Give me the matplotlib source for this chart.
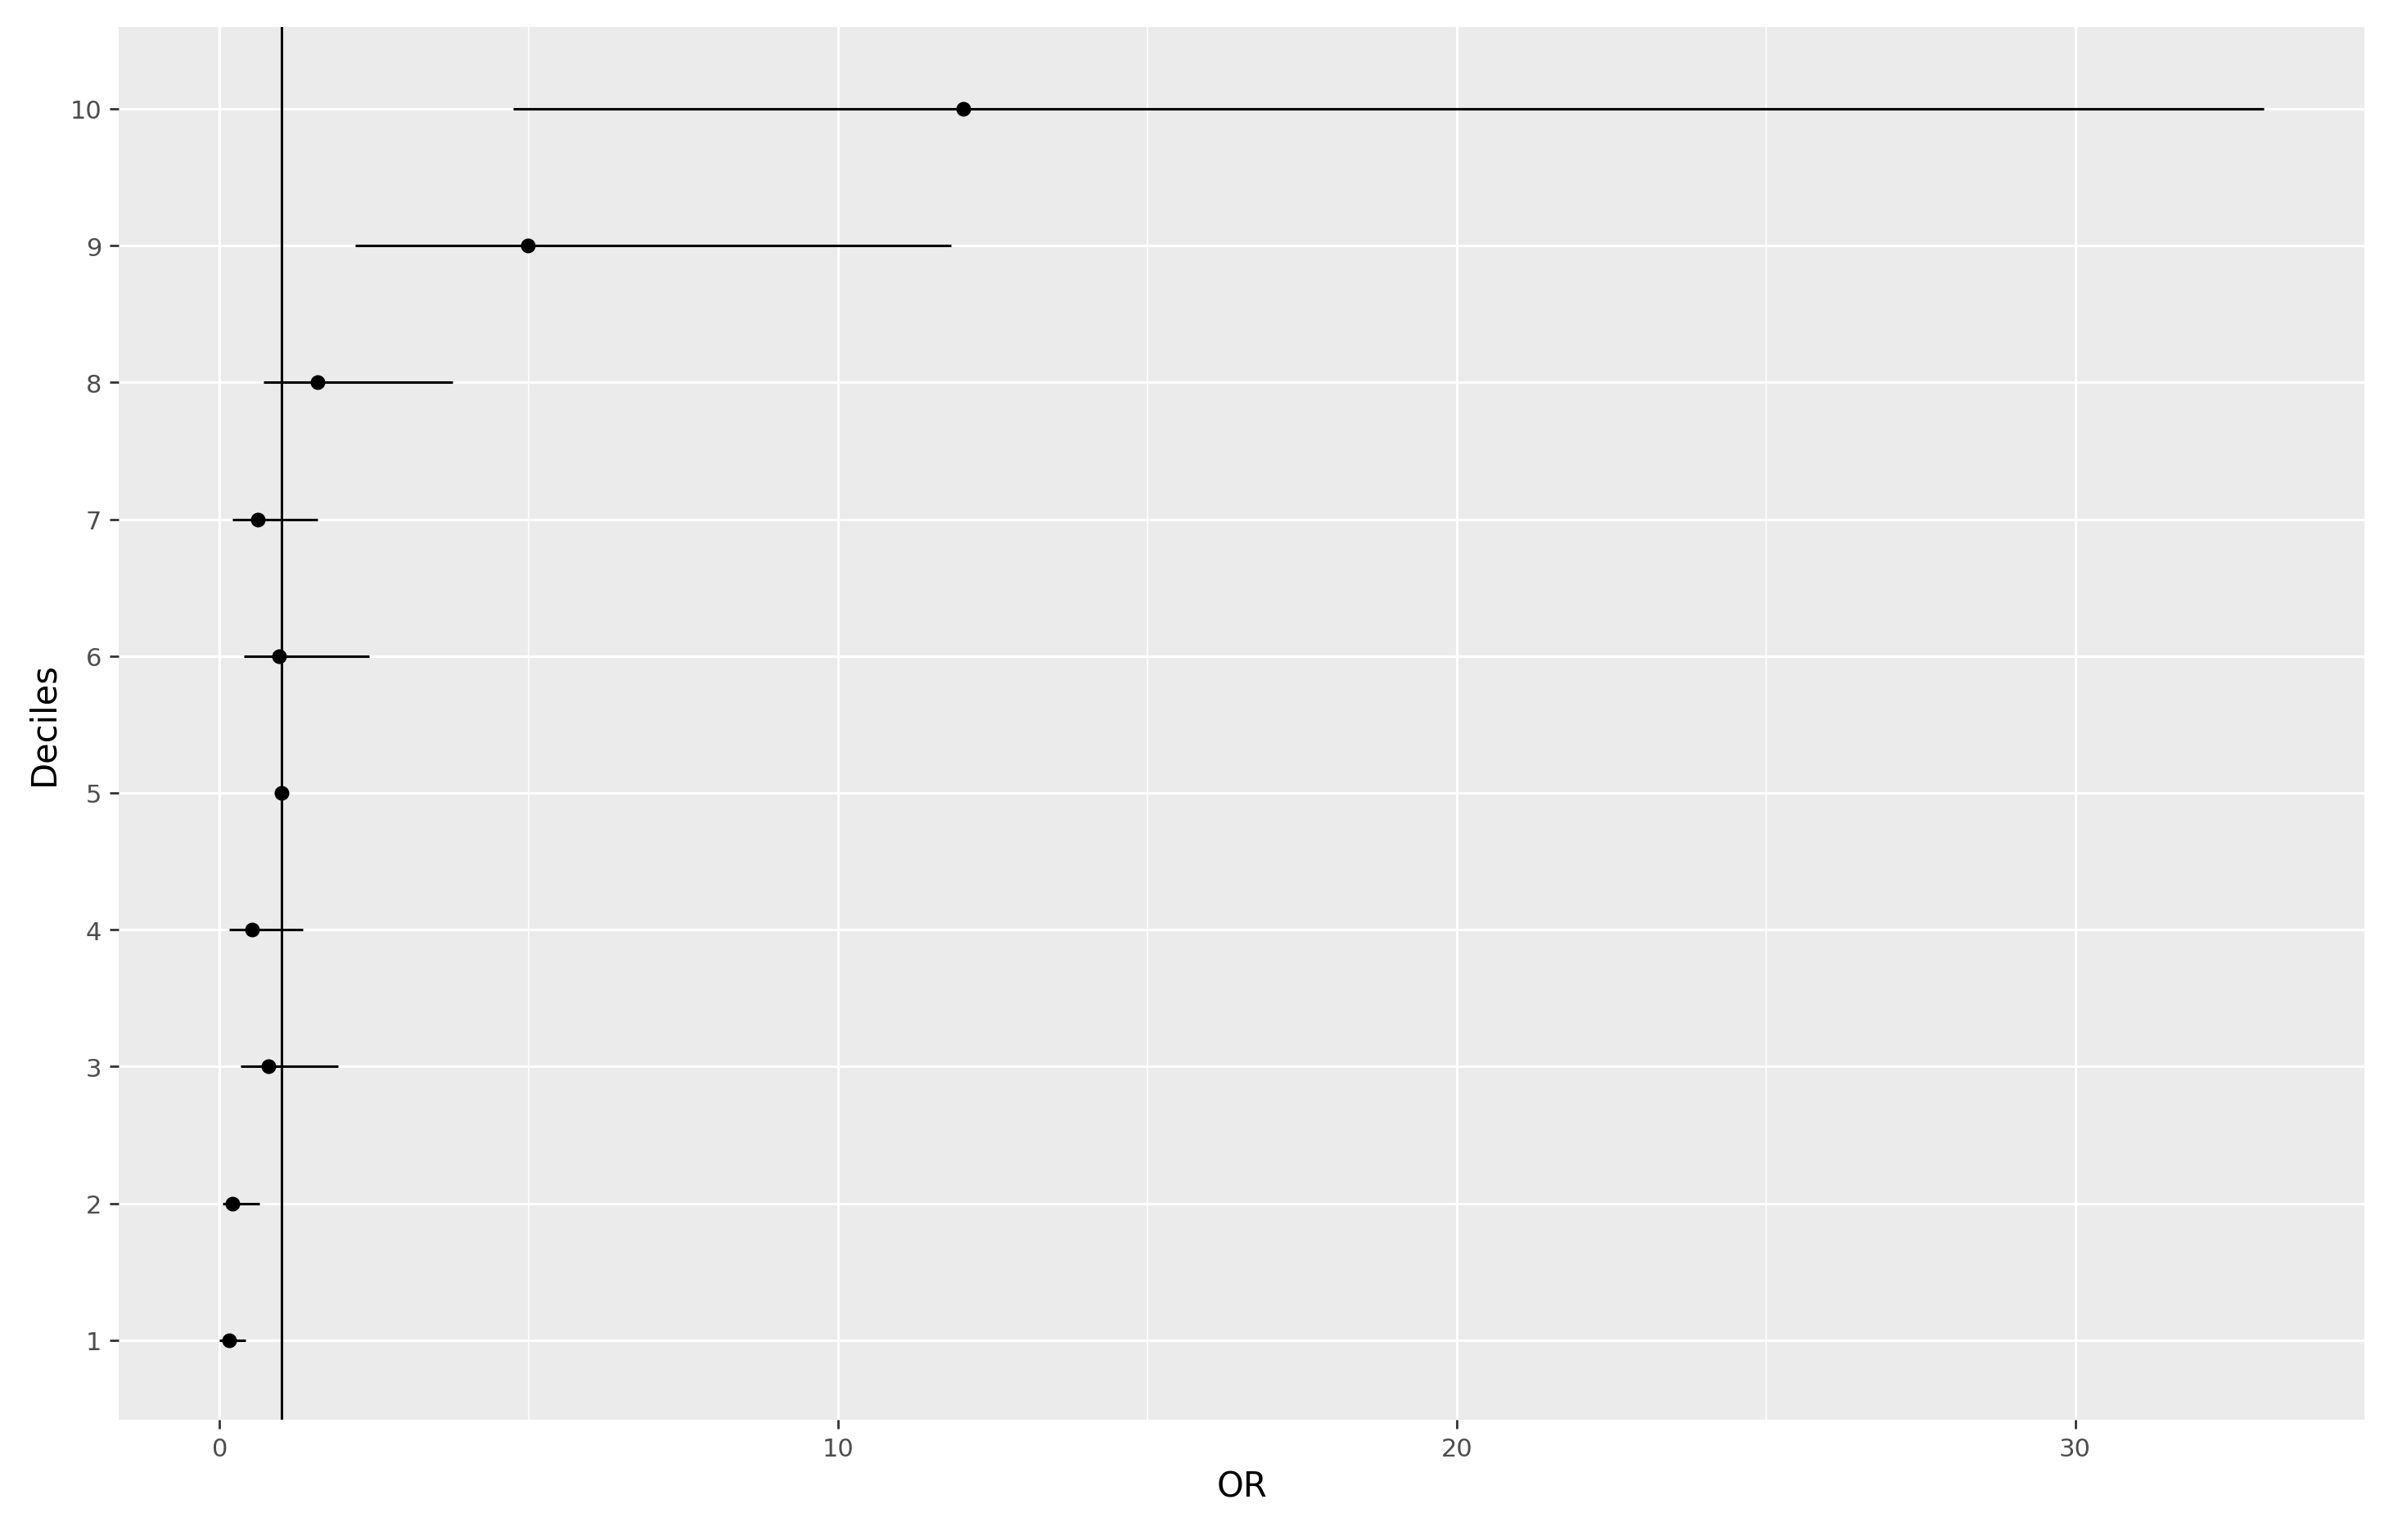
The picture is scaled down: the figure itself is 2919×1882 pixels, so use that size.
import matplotlib
matplotlib.use("Agg")
import matplotlib.pyplot as plt

deciles = [1, 2, 3, 4, 5, 6, 7, 8, 9, 10]
or_est = [0.15, 0.20, 0.79, 0.52, 1.00, 0.96, 0.62, 1.58, 4.98, 12.02]
ci_low = [0.00, 0.05, 0.34, 0.15, 1.00, 0.39, 0.20, 0.71, 2.19, 4.75]
ci_high = [0.42, 0.64, 1.92, 1.35, 1.00, 2.41, 1.58, 3.77, 11.82, 33.05]

fig = plt.figure(figsize=(14.595, 9.415), dpi=200)
ax = fig.add_axes([78/1568, 1-932/1011, (1552-78)/1568, (932-18)/1011])
ax.set_facecolor("#EBEBEB")
for s in ax.spines.values():
    s.set_visible(False)
ax.set_xlim(-1.63, 34.68)
ax.set_ylim(0.42, 10.6)
ax.set_xticks([0, 10, 20, 30])
ax.set_xticks([5, 15, 25], minor=True)
ax.set_yticks(deciles)
ax.set_yticklabels([str(d) for d in deciles])
ax.grid(which="major", color="white", lw=1.1)
ax.grid(which="minor", axis="x", color="white", lw=0.55)
ax.set_axisbelow(True)
ax.tick_params(axis="both", which="major", labelsize=11, colors="#333333",
               length=4, width=1, labelcolor="#4D4D4D")
ax.tick_params(axis="x", which="minor", length=0)

ax.hlines(deciles, ci_low, ci_high, color="black", lw=1.1, zorder=3)
ax.scatter(or_est, deciles, color="black", s=30, zorder=4)
ax.axvline(1, color="black", lw=1.1, zorder=3)

ax.set_xlabel("OR", fontsize=15)
ax.set_ylabel("Deciles", fontsize=15)
fig.savefig("out.png", dpi=200)
